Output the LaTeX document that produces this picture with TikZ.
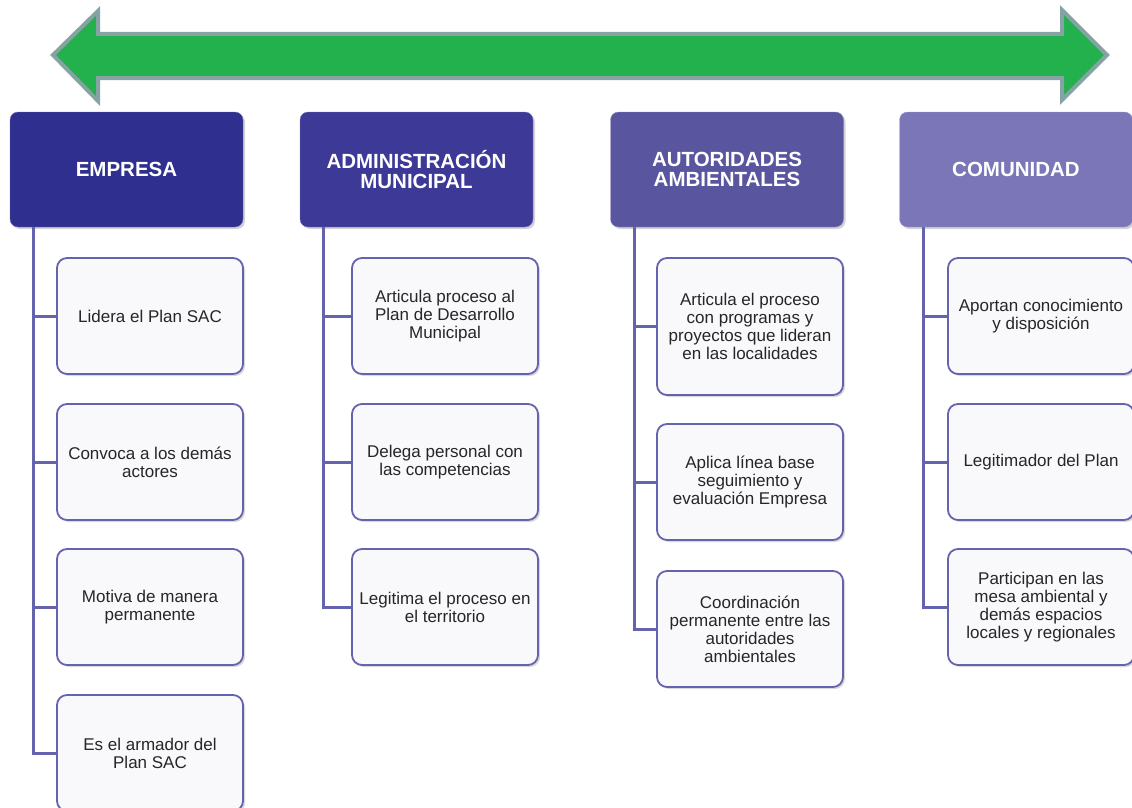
\documentclass[tikz,border=0pt]{standalone}
\usepackage{fontspec}
\setmainfont{Liberation Sans}
\usetikzlibrary{shadows}

\definecolor{empc}{HTML}{2E2F8E}
\definecolor{admc}{HTML}{3D3A97}
\definecolor{autc}{HTML}{5A559F}
\definecolor{comc}{HTML}{7A76B7}
\definecolor{linec}{HTML}{6663AE}
\definecolor{arrowg}{HTML}{22B14C}
\definecolor{arrowe}{HTML}{86A3A3}

\begin{document}
\begin{tikzpicture}[x=1pt,y=-1pt]
\tikzstyle{hdr}=[rectangle, rounded corners=8pt, minimum width=233pt, minimum height=115pt,
  inner sep=0pt, align=center, text=white, font=\fontsize{20.5}{20}\selectfont\bfseries,
  drop shadow={shadow xshift=2pt, shadow yshift=-2pt, opacity=0.35}]
\tikzstyle{item}=[rectangle, rounded corners=10pt, minimum width=186pt, minimum height=116pt,
  inner sep=0pt, align=center, draw=linec, line width=1.8pt, fill=white!96!linec,
  text=black!85, font=\fontsize{17}{18}\selectfont,
  drop shadow={shadow xshift=2pt, shadow yshift=-2pt, opacity=0.3}]
\tikzstyle{conn}=[draw=linec, line width=3pt]
\useasboundingbox (0,0) rectangle (1132,808);

% double arrow on top
\filldraw [fill=arrowg, draw=arrowe, line width=4pt, line join=miter]
  (53,55) -- (98,11) -- (98,34) -- (1062,34) -- (1062,10) -- (1107,55)
  -- (1062,100) -- (1062,78) -- (98,78) -- (98,101) -- cycle;

% headers
\node [hdr, fill=empc, draw=empc!70!white] (emp) at (126.5,169.5) {EMPRESA};
\node [hdr, fill=admc, draw=admc!70!white] (adm) at (416.5,169.5) {ADMINISTRACIÓN\\MUNICIPAL};
\node [hdr, fill=autc, draw=autc!70!white] (aut) at (727,169.5) {AUTORIDADES\\AMBIENTALES};
\node [hdr, fill=comc, draw=comc!70!white] (com) at (1016,169.5) {COMUNIDAD};

% connectors
\coordinate (empl) at ([xshift=24pt]emp.south west);
\coordinate (adml) at ([xshift=24pt]adm.south west);
\coordinate (autl) at ([xshift=24pt]aut.south west);
\coordinate (coml) at ([xshift=24pt]com.south west);

% EMPRESA
\node [item] (emp1) at (150,316) {Lidera el Plan SAC};
\node [item] (emp2) at (150,462) {Convoca a los demás\\actores};
\node [item] (emp3) at (150,607) {Motiva de manera\\permanente};
\node [item] (emp4) at (150,753) {Es el armador del\\Plan SAC};

% ADMINISTRACION
\node [item] (adm1) at (445,316) {Articula proceso al\\Plan de Desarrollo\\Municipal};
\node [item] (adm2) at (445,462) {Delega personal con\\las competencias};
\node [item] (adm3) at (445,607) {Legitima el proceso en\\el territorio};

% AUTORIDADES
\node [item, minimum height=137pt] (aut1) at (750,326.5) {Articula el proceso\\con programas y\\proyectos que lideran\\en las localidades};
\node [item] (aut2) at (750,482) {Aplica línea base\\seguimiento y\\evaluación Empresa};
\node [item] (aut3) at (750,629) {Coordinación\\permanente entre las\\autoridades\\ambientales};

% COMUNIDAD
\node [item] (com1) at (1041,316) {Aportan conocimiento\\y disposición};
\node [item] (com2) at (1041,462) {Legitimador del Plan};
\node [item] (com3) at (1041,607) {Participan en las\\mesa ambiental y\\demás espacios\\locales y regionales};

\foreach \i in {1,...,4} \draw [conn] (empl) |- (emp\i.west);
\foreach \i in {1,...,3} {
  \draw [conn] (adml) |- (adm\i.west);
  \draw [conn] (autl) |- (aut\i.west);
  \draw [conn] (coml) |- (com\i.west);
}
\end{tikzpicture}
\end{document}
